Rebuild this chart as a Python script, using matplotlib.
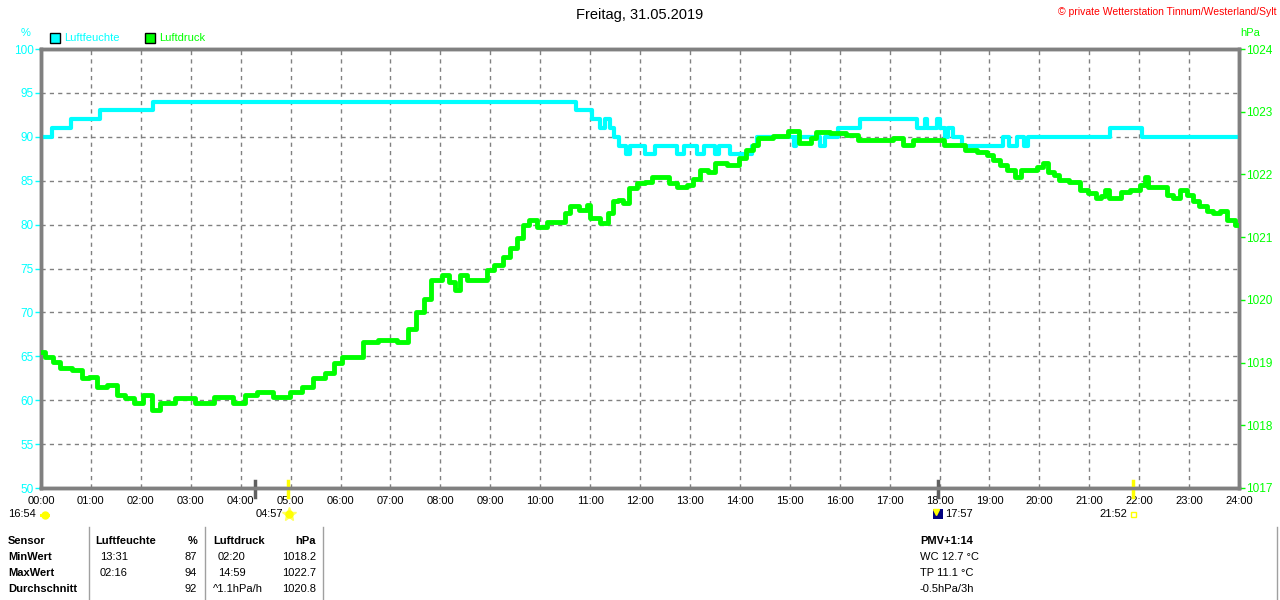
import matplotlib.pyplot as plt
from matplotlib.patches import Rectangle, Wedge
from matplotlib.lines import Line2D

plt.rcParams['font.family'] = ['Liberation Sans', 'DejaVu Sans']

title = 'Freitag, 31.05.2019'
copyright_txt = '© private Wetterstation Tinnum/Westerland/Sylt'

# Luftfeuchte (%), steps: hour -> value
hum_h = [0.00, 0.22, 0.60, 1.19, 2.25, 10.72, 11.04, 11.20, 11.30, 11.40, 11.47, 11.58,
         11.72, 11.80, 12.10, 12.30, 12.75, 12.88, 13.15, 13.28, 13.50, 13.58, 13.80,
         14.25, 14.35, 15.08, 15.12, 15.60, 15.70, 15.97, 16.40, 17.55, 17.70, 17.75,
         17.95, 18.00, 18.12, 18.17, 18.27, 18.45, 19.28, 19.40, 19.55, 19.70, 19.78,
         21.42, 22.06, 24.00]
hum_v = [90, 91, 92, 93, 94, 93, 92, 91, 92, 91, 90, 89,
         88, 89, 88, 89, 88, 89, 88, 89, 88, 89, 88,
         89, 90, 89, 90, 89, 90, 91, 92, 91, 92, 91,
         92, 91, 90, 91, 90, 89, 90, 89, 90, 89, 90,
         91, 90, 90]

# Luftdruck (hPa)
prs_h = [0.00, 0.18, 0.31, 0.45, 0.78, 0.88, 1.05, 1.18, 1.45, 1.58, 1.78, 1.95, 2.12,
         2.32, 2.45, 2.92, 3.25, 3.69, 3.99, 4.19, 4.45, 4.85, 5.12, 5.32, 5.59, 5.79,
         5.96, 6.12, 6.39, 6.52, 6.99, 7.26, 7.43, 7.59, 7.76, 7.86, 7.99, 8.09, 8.26,
         8.32, 8.46, 8.59, 8.89, 8.96, 9.19, 9.33, 9.46, 9.60, 9.70, 9.86, 10.00, 10.26,
         10.46, 10.53, 10.66, 10.90, 10.96, 11.03, 11.16, 11.23, 11.33, 11.40, 11.50,
         11.60, 11.70, 11.87, 12.00, 12.20, 12.27, 12.53, 12.63, 12.87, 13.00, 13.13,
         13.27, 13.47, 13.54, 13.94, 14.04, 14.20, 14.34, 14.40, 14.94, 15.00, 15.37,
         15.47, 15.60, 16.00, 16.27, 16.47, 16.94, 17.21, 17.34, 17.61, 18.01, 18.17,
         18.41, 18.61, 18.88, 19.01, 19.14, 19.28, 19.44, 19.58, 19.68, 19.88, 20.01,
         20.12, 20.22, 20.35, 20.45, 20.75, 20.88, 21.08, 21.18, 21.28, 21.35, 21.45,
         21.58, 21.68, 21.95, 22.08, 22.14, 22.22, 22.48, 22.62, 22.75, 22.88, 23.02,
         23.12, 23.28, 23.42, 23.55, 23.68, 23.82, 24.00]
prs_v = [1019.17, 1019.09, 1019.01, 1018.91, 1018.88, 1018.75, 1018.77, 1018.61, 1018.64,
         1018.48, 1018.43, 1018.35, 1018.48, 1018.24, 1018.35, 1018.43, 1018.35, 1018.45,
         1018.35, 1018.48, 1018.53, 1018.45, 1018.53, 1018.61, 1018.75, 1018.83, 1019.00,
         1019.09, 1019.09, 1019.33, 1019.36, 1019.33, 1019.54, 1019.81, 1020.02, 1020.31,
         1020.32, 1020.39, 1020.29, 1020.16, 1020.39, 1020.31, 1020.31, 1020.48, 1020.56,
         1020.69, 1020.82, 1020.98, 1021.19, 1021.27, 1021.16, 1021.24, 1021.24, 1021.38,
         1021.49, 1021.43, 1021.51, 1021.30, 1021.30, 1021.22, 1021.22, 1021.38, 1021.57,
         1021.60, 1021.54, 1021.78, 1021.86, 1021.88, 1021.96, 1021.96, 1021.86, 1021.80,
         1021.83, 1021.93, 1022.07, 1022.04, 1022.18, 1022.15, 1022.26, 1022.39, 1022.47,
         1022.58, 1022.61, 1022.69, 1022.50, 1022.58, 1022.68, 1022.66, 1022.63, 1022.55,
         1022.55, 1022.58, 1022.47, 1022.55, 1022.55, 1022.47, 1022.47, 1022.39, 1022.36,
         1022.31, 1022.23, 1022.15, 1022.07, 1021.96, 1022.07, 1022.07, 1022.12, 1022.18,
         1022.04, 1021.99, 1021.91, 1021.88, 1021.75, 1021.70, 1021.62, 1021.65, 1021.75,
         1021.62, 1021.62, 1021.72, 1021.75, 1021.83, 1021.96, 1021.80, 1021.80, 1021.67,
         1021.62, 1021.75, 1021.67, 1021.57, 1021.49, 1021.41, 1021.38, 1021.41, 1021.27,
         1021.19]

x_labels = ['%02d:00' % h for h in range(25)]
hum_ticks = list(range(50, 101, 5))
prs_ticks = list(range(1017, 1025))

# sun / moon events under the axis
sun_marks = [4.95, 21.87]
moon_marks = [4.29, 17.96]

# summary table
tbl_head = ['Sensor', 'Luftfeuchte', '%', 'Luftdruck', 'hPa']
tbl_rows = [['MinWert', '13:31', '87', '02:20', '1018.2'],
            ['MaxWert', '02:16', '94', '14:59', '1022.7'],
            ['Durchschnitt', '', '92', '^1.1hPa/h', '1020.8']]
extra_lines = ['PMV+1:14', 'WC 12.7 °C', 'TP 11.1 °C', '-0.5hPa/3h']

CYAN = '#00ffff'
GREEN = '#00ff00'
GRAY = '#808080'

W, H = 1280, 600
def fx(px):
    return px / W
def fy(py):
    return 1 - py / H

fig = plt.figure(figsize=(12.8, 6), dpi=100)
fig.patch.set_facecolor('white')
ax = fig.add_axes([fx(41), fy(488), (1239 - 41) / W, (488 - 49) / H])
ax2 = ax.twinx()

ax.step(hum_h, hum_v, where='post', color=CYAN, lw=3, zorder=3)
ax2.step(prs_h, prs_v, where='mid', color=GREEN, lw=3.5, zorder=3)

ax.set_xlim(0, 24)
ax.set_ylim(50, 100)
ax2.set_ylim(1017, 1024)
ax.set_xticks(range(25))
ax.set_xticklabels(x_labels)
ax.set_yticks(hum_ticks)
ax2.set_yticks(prs_ticks)
ax.grid(True, color=GRAY, linestyle=(0, (3, 3)), lw=1)
ax.set_axisbelow(True)

ax.tick_params(axis='x', length=0, pad=6, labelsize=8, labelcolor='black')
ax.tick_params(axis='y', length=4, width=1, color=CYAN, labelcolor=CYAN, labelsize=8.5, pad=1)
ax2.tick_params(axis='y', length=4, width=1, color=GREEN, labelcolor=GREEN, labelsize=8.5, pad=1)
for a in (ax, ax2):
    for s in a.spines.values():
        s.set_color(GRAY)
        s.set_linewidth(2.5)

# event ticks on the bottom edge
for h in sun_marks:
    ax.plot([h, h], [-0.02, 0.015], color='#ffff00', lw=2.5, transform=ax.get_xaxis_transform(),
            clip_on=False, zorder=5)
for h in moon_marks:
    ax.plot([h, h], [-0.02, 0.015], color='#606060', lw=2.5, transform=ax.get_xaxis_transform(),
            clip_on=False, zorder=5)

fig.text(fx(8), fy(514), '16:54', fontsize=8, va='center')
fig.add_artist(Rectangle((fx(40), fy(517)), 10 / W, 3 / H, facecolor='#ffff00', edgecolor='none'))
fig.add_artist(Line2D([fx(45)], [fy(515)], marker='o', color='#ffff00', markersize=5, ls=''))
fig.text(fx(283), fy(514), '04:57', fontsize=8, va='center', ha='right')
fig.add_artist(Line2D([fx(289)], [fy(514)], marker='*', color='#ffff60', markersize=10, ls=''))
fig.add_artist(Line2D([fx(289)], [fy(514)], marker='o', color='#ffff00', markersize=5, ls=''))
fig.add_artist(Rectangle((fx(933), fy(519)), 10 / W, 10 / H, facecolor='#000080', edgecolor='none'))
fig.add_artist(Line2D([fx(936)], [fy(512)], marker='v', color='#ffff00', markersize=4, ls=''))
fig.text(fx(945), fy(514), '17:57', fontsize=8, va='center')
fig.text(fx(1127), fy(514), '21:52', fontsize=8, va='center', ha='right')
fig.add_artist(Rectangle((fx(1131), fy(517)), 5 / W, 5 / H, facecolor='none', edgecolor='#ffff00', lw=1))

# header texts
fig.text(0.5, fy(15), title, ha='center', va='center', fontsize=10.5)
fig.text(fx(1276), fy(12), copyright_txt, ha='right', va='center', fontsize=7.5, color='red')
fig.text(fx(26), fy(33), '%', ha='center', va='center', fontsize=8, color=CYAN)
fig.text(fx(1250), fy(33), 'hPa', ha='center', va='center', fontsize=8, color=GREEN)

# legend
for px, label, col in [(50, 'Luftfeuchte', CYAN), (145, 'Luftdruck', GREEN)]:
    fig.add_artist(Rectangle((fx(px), fy(43)), 10 / W, 10 / H, facecolor=col,
                             edgecolor='black', lw=1))
    fig.text(fx(px + 14), fy(38), label, va='center', fontsize=8, color=col)

# table
col_x = [8, 95, 197, 213, 316]
col_ha = ['left', 'left', 'right', 'left', 'right']
row_y = [541, 557, 573, 589]
for x, ha, t in zip(col_x, col_ha, tbl_head):
    fig.text(fx(x), fy(row_y[0]), t, ha=ha, va='center', fontsize=8, fontweight='bold')
for r, row in enumerate(tbl_rows):
    y = row_y[r + 1]
    fig.text(fx(col_x[0]), fy(y), row[0], va='center', fontsize=8, fontweight='bold')
    fig.text(fx(100), fy(y), row[1], va='center', fontsize=8)
    fig.text(fx(col_x[2]), fy(y), row[2], ha='right', va='center', fontsize=8)
    fig.text(fx(218 if r < 2 else 213), fy(y), row[3], va='center', fontsize=8)
    fig.text(fx(col_x[4]), fy(y), row[4], ha='right', va='center', fontsize=8)
for px in [89, 205, 323, 1277]:
    fig.add_artist(Line2D([fx(px), fx(px)], [fy(527), fy(600)], color='#a0a0a0', lw=1))

for i, t in enumerate(extra_lines):
    fig.text(fx(920), fy(row_y[i]), t, va='center', fontsize=8,
             fontweight='bold' if i == 0 else 'normal')

fig.savefig('out.png', dpi=100)
